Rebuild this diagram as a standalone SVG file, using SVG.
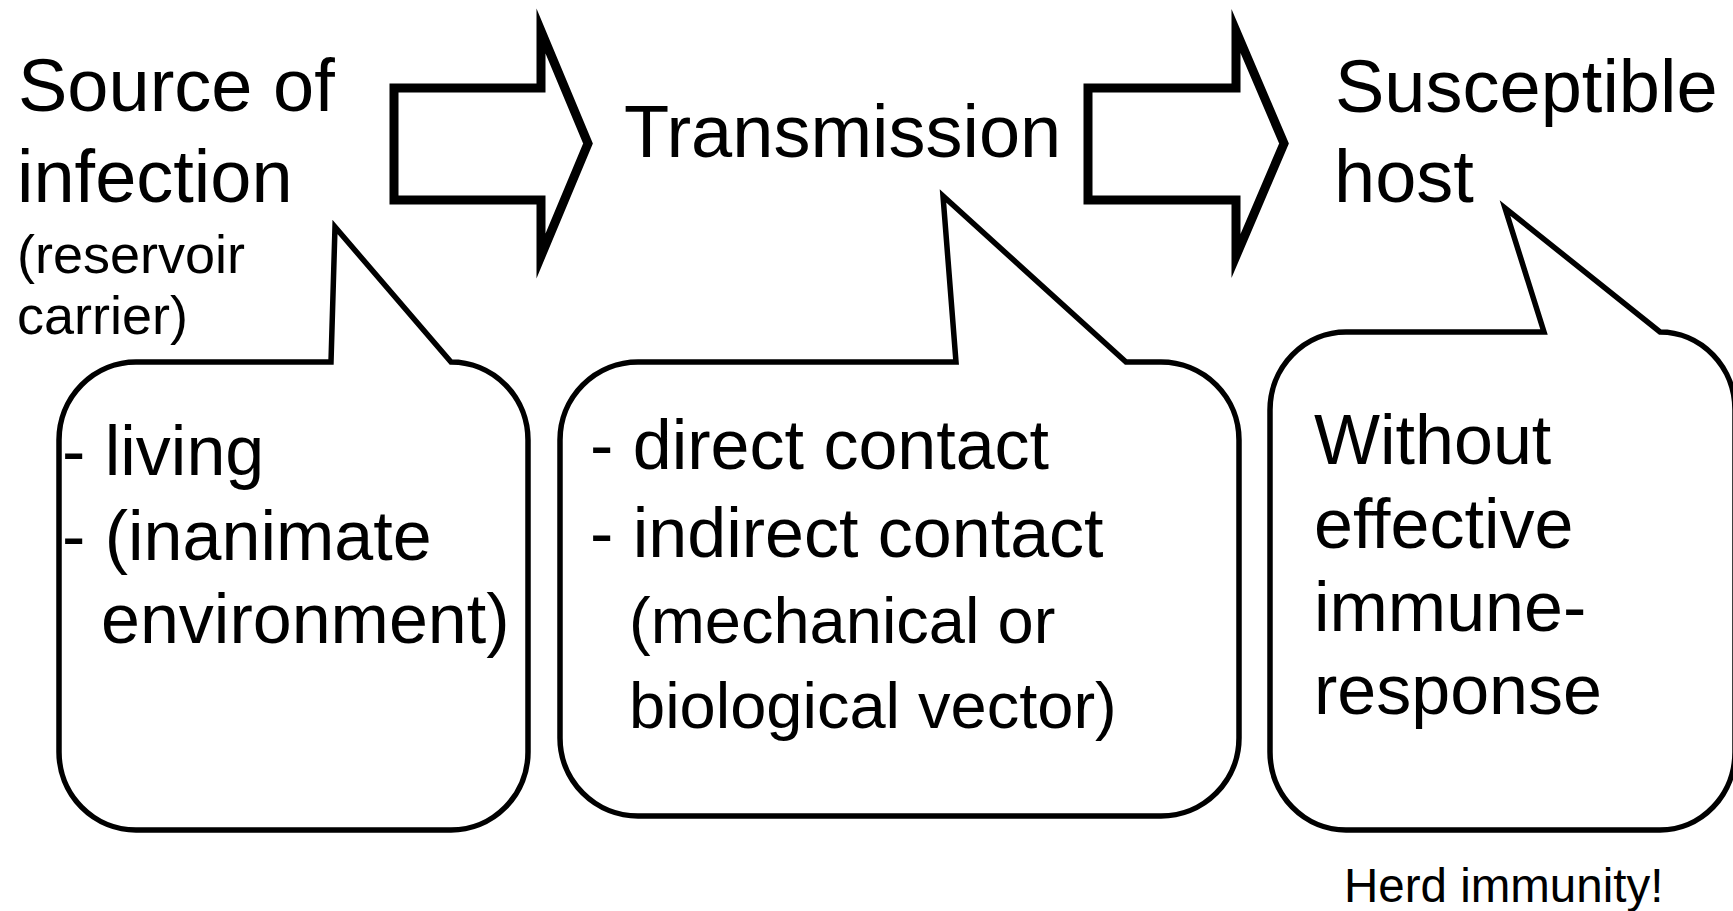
<svg xmlns="http://www.w3.org/2000/svg" width="1733" height="911" viewBox="0 0 1733 911">
<style>
text{font-family:"Liberation Sans",Arial,Helvetica,sans-serif;fill:#000}
.t{font-size:74px}
.s{font-size:54px}
.b{font-size:70px}
.b2{font-size:65px}
.h{font-size:47.5px}
.bub{fill:#fff;stroke:#000;stroke-width:5.5;stroke-linejoin:miter;stroke-miterlimit:10}
.arr{fill:#fff;stroke:#000;stroke-width:9;stroke-linejoin:miter;stroke-miterlimit:10}
</style>
<rect width="1733" height="911" fill="#fff"/>
<g id="connectors">
<polygon class="arr" points="394,88 541,88 541,31 588,143.5 541,256 541,200 394,200"/>
<polygon class="arr" points="1088,88 1236,88 1236,31 1284,143.5 1236,256 1236,200 1088,200"/>
</g>
<g id="source">
<text class="t" x="18" y="111">Source of</text>
<text class="t" x="17" y="202">infection</text>
<text class="s" x="17" y="273">(reservoir</text>
<text class="s" x="17" y="334">carrier)</text>
</g>
<g id="transmission">
<text class="t" x="624" y="157">Transmission</text>
</g>
<g id="host">
<text class="t" x="1335" y="112">Susceptible</text>
<text class="t" x="1334" y="202">host</text>
</g>
<g id="bubble-source">
<path class="bub" d="M136,362 L331,362 L335,227 L451,362 A77,78 0 0 1 528,440 L528,752 A77,78 0 0 1 451,830 L136,830 A77,78 0 0 1 59,752 L59,440 A77,78 0 0 1 136,362 Z"/>
<text class="b" x="62" y="475">- living</text>
<text class="b" x="62" y="560">- (inanimate</text>
<text class="b" x="101" y="643">environment)</text>
</g>
<g id="bubble-transmission">
<path class="bub" d="M638,362 L956,362 L943,196 L1126,362 L1161,362 A78,78 0 0 1 1239,440 L1239,738 A78,78 0 0 1 1161,816 L638,816 A78,78 0 0 1 560,738 L560,440 A78,78 0 0 1 638,362 Z"/>
<text class="b" x="590" y="469">- direct contact</text>
<text class="b" x="590" y="557">- indirect contact</text>
<text class="b2" x="629" y="643">(mechanical or</text>
<text class="b2" x="629" y="728">biological vector)</text>
</g>
<g id="bubble-host">
<path class="bub" d="M1346,332 L1544,332 L1505,208 L1660,332 A75,78 0 0 1 1735,410 L1735,752 A75,78 0 0 1 1660,830 L1346,830 A76,78 0 0 1 1270,752 L1270,410 A76,78 0 0 1 1346,332 Z"/>
<text class="b" x="1314" y="464">Without</text>
<text class="b" x="1314" y="548">effective</text>
<text class="b" x="1314" y="631">immune-</text>
<text class="b" x="1314" y="714">response</text>
</g>
<g id="herd-immunity">
<text class="h" x="1344" y="902">Herd immunity!</text>
</g>
</svg>
